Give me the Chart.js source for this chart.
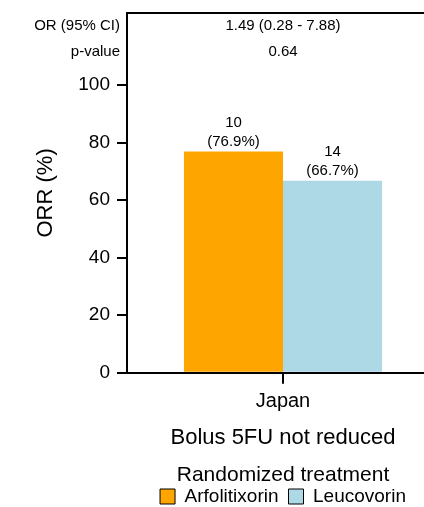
<!DOCTYPE html>
<html>
<head>
<meta charset="utf-8">
<script src="https://cdn.jsdelivr.net/npm/chart.js@4.4.1/dist/chart.umd.min.js"></script>
<style>
    html, body { margin: 0; padding: 0; background: #fff; overflow: hidden; }
    #wrap { width: 440px; height: 507px; }
</style>
</head>
<body>
<div id="wrap"><canvas id="orrChart"></canvas></div>
<script>
const categories = ['Japan'];
const treatments = ['Arfolitixorin', 'Leucovorin'];
const orrPercent = [76.9, 66.7];
const responders = [10, 14];
const yTickValues = [0, 20, 40, 60, 80, 100];
const statLabels = ['OR (95% CI)', 'p-value'];
const statValues = ['1.49 (0.28 - 7.88)', '0.64'];

const colors = ['#FFA500', '#ADD8E6'];
const FONT = "'Liberation Sans', Arial, sans-serif";

const extras = {
    id: 'extras',
    afterDatasetsDraw(chart) {
        const { ctx, chartArea } = chart;
        ctx.save();

        // top border of the panel
        ctx.strokeStyle = '#000';
        ctx.lineWidth = 2;
        ctx.beginPath();
        ctx.moveTo(chartArea.left - 1, chartArea.top);
        ctx.lineTo(chartArea.right, chartArea.top);
        ctx.stroke();

        ctx.fillStyle = '#000';
        ctx.textBaseline = 'middle';
        ctx.font = '15px ' + FONT;

        // counts above bars
        ctx.textAlign = 'center';
        chart.data.datasets.forEach((ds, i) => {
            const bar = chart.getDatasetMeta(i).data[0];
            ctx.fillText(String(responders[i]), bar.x, bar.y - 29);
            ctx.fillText('(' + orrPercent[i].toFixed(1) + '%)', bar.x, bar.y - 10);
        });

        // statistics rows
        const cx = chart.scales.x.getPixelForValue(0);
        const rowsY = [26, 52];
        statLabels.forEach((lab, i) => {
            ctx.textAlign = 'right';
            ctx.fillText(lab, chartArea.left - 7, rowsY[i]);
            ctx.textAlign = 'center';
            ctx.fillText(statValues[i], cx, rowsY[i]);
        });
        ctx.restore();
    },
};

new Chart(document.getElementById('orrChart'), {
    type: 'bar',
    data: {
        labels: categories,
        datasets: treatments.map((name, i) => ({
            label: name,
            data: [orrPercent[i]],
            backgroundColor: colors[i],
            borderWidth: 0,
            barPercentage: 1,
            categoryPercentage: 0.635,
        })),
    },
    options: {
        responsive: true,
        maintainAspectRatio: false,
        animation: false,
        layout: { padding: { top: 13, right: 1, left: 0, bottom: -9 } },
        plugins: {
            tooltip: { enabled: false },
            legend: {
                position: 'bottom',
                fullSize: false,
                title: {
                    display: true,
                    text: 'Randomized treatment',
                    color: '#000',
                    font: { family: FONT, size: 21 },
                    padding: { top: 0, bottom: -13 },
                },
                labels: {
                    color: '#000',
                    font: { family: FONT, size: 19 },
                    boxWidth: 15,
                    boxHeight: 15,
                    padding: 10,
                    generateLabels: () => treatments.map((name, i) => ({
                        text: name,
                        fillStyle: colors[i],
                        strokeStyle: '#000',
                        lineWidth: 1,
                        datasetIndex: i,
                    })),
                },
            },
        },
        scales: {
            x: {
                grid: { offset: false, drawOnChartArea: false, drawTicks: true, tickLength: 11, color: '#000', lineWidth: 2 },
                border: { color: '#000', width: 2 },
                ticks: { color: '#000', font: { family: FONT, size: 20 }, padding: 6 },
                title: {
                    display: true,
                    text: 'Bolus 5FU not reduced',
                    color: '#000',
                    font: { family: FONT, size: 22 },
                    padding: { top: 0, bottom: 14 },
                },
                afterFit(s) { s.height = 92; },
            },
            y: {
                min: 0,
                max: 125,
                afterBuildTicks(s) { s.ticks = yTickValues.map(v => ({ value: v })); },
                grid: { drawOnChartArea: false, drawTicks: true, tickLength: 10, color: '#000', lineWidth: 2 },
                border: { color: '#000', width: 2 },
                ticks: { color: '#000', font: { family: FONT, size: 19 }, padding: 7 },
                title: {
                    display: true,
                    text: 'ORR (%)',
                    color: '#000',
                    font: { family: FONT, size: 22 },
                    padding: { top: 33, bottom: 0 },
                },
                afterFit(s) {
                    s.width = 127;
                    s.paddingTop = 0;
                    s.paddingBottom = 0;
                },
            },
        },
    },
    plugins: [extras],
});
</script>
</body>
</html>
